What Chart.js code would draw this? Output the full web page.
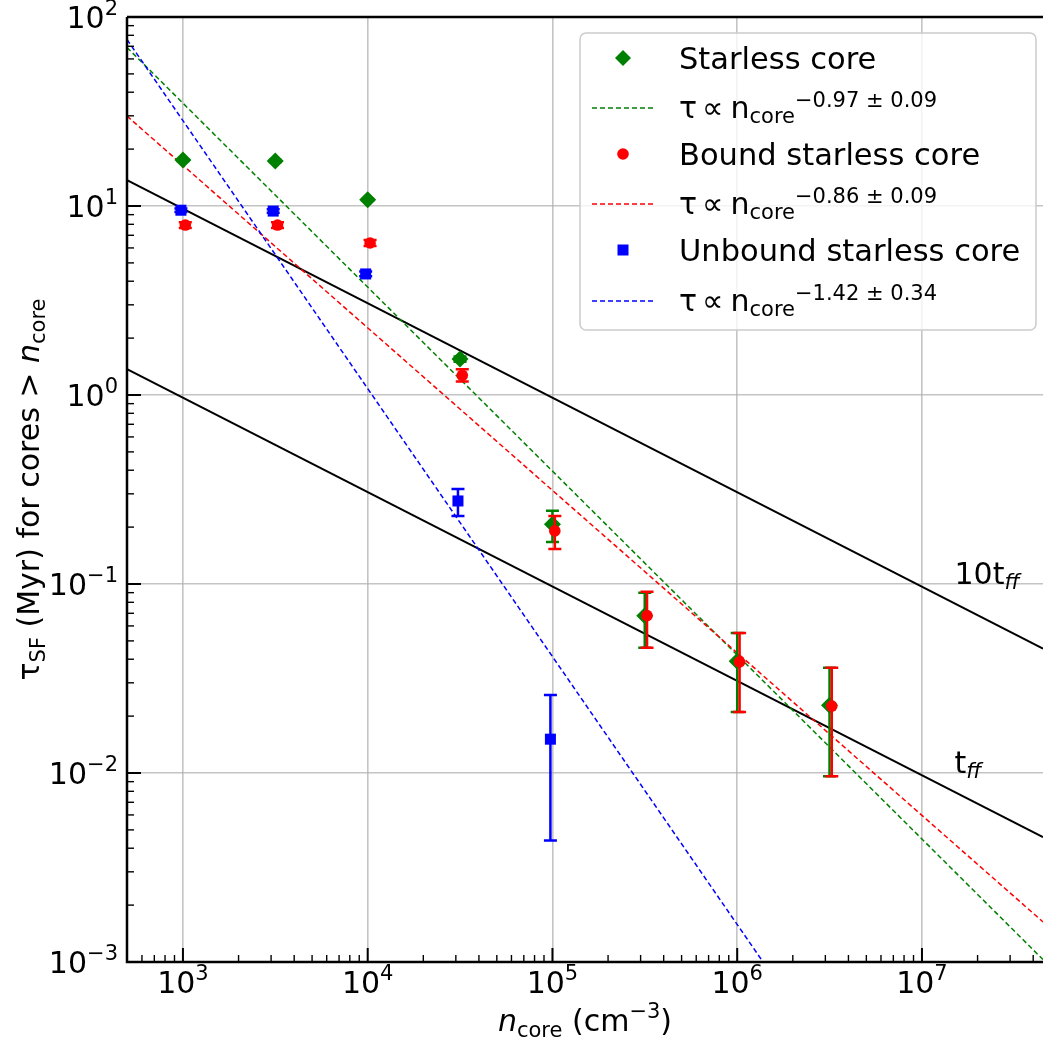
<!DOCTYPE html>
<html>
<head>
<meta charset="utf-8">
<script src="https://cdn.jsdelivr.net/npm/chart.js@4.4.1/dist/chart.umd.min.js"></script>
<style>
  html, body { margin: 0; padding: 0; background: #fff; }
  #wrap { width: 1043px; height: 1050px; }
</style>
</head>
<body>
<div id="wrap"><canvas id="chart" width="1043" height="1050"></canvas></div>
<script>
(function () {
    "use strict";

    var FONT = "'DejaVu Sans', sans-serif";
    var GREEN = "#008000";
    var RED = "#ff0000";
    var BLUE = "#0000ff";

    // --- data ---
    var starlessN = [1e3, 3.16e3, 1e4, 3.16e4, 1e5, 3.16e5, 1e6, 3.16e6];
    var starlessTau = [17.5, 17.3, 10.8, 1.55, 0.207, 0.068, 0.039, 0.0228];
    var starlessLo = [17.3, 17.1, 10.7, 1.50, 0.167, 0.046, 0.021, 0.0096];
    var starlessHi = [17.7, 17.5, 10.9, 1.60, 0.244, 0.090, 0.055, 0.036];

    var boundN = [1.03e3, 3.25e3, 1.03e4, 3.25e4, 1.03e5, 3.25e5, 1.03e6, 3.25e6];
    var boundTau = [7.93, 7.93, 6.37, 1.27, 0.191, 0.068, 0.0387, 0.0226];
    var boundLo = [7.65, 7.65, 6.15, 1.18, 0.153, 0.046, 0.021, 0.0096];
    var boundHi = [8.2, 8.2, 6.6, 1.37, 0.229, 0.091, 0.055, 0.036];

    var unboundN = [0.975e3, 3.08e3, 0.975e4, 3.08e4, 0.975e5];
    var unboundTau = [9.5, 9.4, 4.37, 0.275, 0.0151];
    var unboundLo = [9.3, 9.2, 4.25, 0.229, 0.0044];
    var unboundHi = [9.7, 9.6, 4.5, 0.318, 0.0259];

    // fitted power laws and free-fall lines (end points)
    var fitN = [498, 4.52e7];
    var fitStarless = [69, 1.03e-3];
    var fitBound = [29.9, 1.63e-3];
    var fitUnboundN = [498, 1.38e6];
    var fitUnbound = [76, 1.0e-3];
    var tenTffLine = [13.7, 0.0455];
    var tffLine = [1.37, 0.00458];

    var xTickExps = [3, 4, 5, 6, 7];
    var yTickExps = [-3, -2, -1, 0, 1, 2];
    var X_MIN = 498, X_MAX = 4.52e7, Y_MIN = 1e-3, Y_MAX = 100;

    var fitLabels = ["\u22120.97 \u00b1 0.09", "\u22120.86 \u00b1 0.09", "\u22121.42 \u00b1 0.34"];
    var seriesLabels = ["Starless core", "Bound starless core", "Unbound starless core"];

    function points(xs, ys) {
        return xs.map(function (x, i) { return { x: x, y: ys[i] }; });
    }

    function font(size, italic) {
        return (italic ? "italic " : "") + size + "px " + FONT;
    }

    function richWidth(ctx, parts) {
        var w = 0;
        parts.forEach(function (p) {
            ctx.font = font(p.size, p.italic);
            w += ctx.measureText(p.t).width + (p.gap || 0);
        });
        return w;
    }

    function drawRich(ctx, parts, x, y, align) {
        var w = richWidth(ctx, parts);
        var cx = align === "center" ? x - w / 2 : (align === "right" ? x - w : x);
        ctx.textAlign = "left";
        ctx.textBaseline = "alphabetic";
        parts.forEach(function (p) {
            ctx.font = font(p.size, p.italic);
            ctx.fillText(p.t, cx, y + (p.dy || 0));
            cx += ctx.measureText(p.t).width + (p.gap || 0);
        });
    }

    function powLabel(exp) {
        var e = exp < 0 ? "\u2212" + Math.abs(exp) : String(exp);
        return [{ t: "10", size: 30 }, { t: e, size: 21, dy: -13 }];
    }

    function isDecade(v) {
        var l = Math.log10(v);
        return Math.abs(l - Math.round(l)) < 1e-6;
    }

    var errorBars = {
        id: "errorBars",
        beforeDatasetDraw: function (chart, args) {
            var ds = chart.data.datasets[args.index];
            if (!ds.errLo) return;
            var ctx = chart.ctx;
            var xs = chart.scales.x, ys = chart.scales.y;
            ctx.save();
            ctx.strokeStyle = ds.borderColor;
            ctx.lineWidth = 2.5;
            ds.data.forEach(function (p, i) {
                var px = xs.getPixelForValue(p.x);
                var top = ys.getPixelForValue(ds.errHi[i]);
                var bot = ys.getPixelForValue(ds.errLo[i]);
                ctx.beginPath();
                ctx.moveTo(px, top); ctx.lineTo(px, bot);
                ctx.moveTo(px - 6.5, top); ctx.lineTo(px + 6.5, top);
                ctx.moveTo(px - 6.5, bot); ctx.lineTo(px + 6.5, bot);
                ctx.stroke();
            });
            ctx.restore();
        }
    };

    function drawMarker(ctx, style, x, y, color) {
        ctx.fillStyle = color;
        ctx.beginPath();
        if (style === "diamond") {
            ctx.moveTo(x, y - 8); ctx.lineTo(x + 8, y); ctx.lineTo(x, y + 8); ctx.lineTo(x - 8, y);
            ctx.closePath();
        } else if (style === "circle") {
            ctx.arc(x, y, 5.8, 0, Math.PI * 2);
        } else {
            ctx.rect(x - 5.5, y - 5.5, 11, 11);
        }
        ctx.fill();
    }

    var decorations = {
        id: "decorations",
        afterDraw: function (chart) {
            var ctx = chart.ctx;
            var area = chart.chartArea;
            var xs = chart.scales.x, ys = chart.scales.y;
            ctx.save();
            ctx.fillStyle = "#000";
            ctx.strokeStyle = "#000";

            // free-fall labels
            drawRich(ctx, [{ t: "10t", size: 30 }, { t: "ff", size: 21, italic: true, dy: 5 }],
                xs.getPixelForValue(1.5e7), ys.getPixelForValue(0.1), "left");
            drawRich(ctx, [{ t: "t", size: 30 }, { t: "ff", size: 21, italic: true, dy: 5 }],
                xs.getPixelForValue(1.5e7), ys.getPixelForValue(0.01), "left");

            // spines
            ctx.lineWidth = 2.5;
            ctx.beginPath();
            ctx.moveTo(area.left, area.top); ctx.lineTo(area.left, area.bottom);
            ctx.lineTo(area.right + 2, area.bottom);
            ctx.moveTo(area.left, area.top); ctx.lineTo(area.right + 2, area.top);
            ctx.stroke();

            // inward ticks
            var e, m, v, p;
            for (e = 2; e <= 7; e++) {
                for (m = 1; m <= 9; m++) {
                    v = m * Math.pow(10, e);
                    if (v < X_MIN || v > X_MAX) continue;
                    p = xs.getPixelForValue(v);
                    ctx.lineWidth = m === 1 ? 2 : 1.4;
                    ctx.beginPath();
                    ctx.moveTo(p, area.bottom);
                    ctx.lineTo(p, area.bottom - (m === 1 ? 14 : 7));
                    ctx.stroke();
                }
            }
            for (e = -3; e <= 1; e++) {
                for (m = 1; m <= 9; m++) {
                    v = m * Math.pow(10, e);
                    if (v < Y_MIN || v > Y_MAX) continue;
                    p = ys.getPixelForValue(v);
                    ctx.lineWidth = m === 1 ? 2 : 1.4;
                    ctx.beginPath();
                    ctx.moveTo(area.left, p);
                    ctx.lineTo(area.left + (m === 1 ? 14 : 7), p);
                    ctx.stroke();
                }
            }

            // tick labels
            xTickExps.forEach(function (ex) {
                drawRich(ctx, powLabel(ex), xs.getPixelForValue(Math.pow(10, ex)), area.bottom + 31, "center");
            });
            yTickExps.forEach(function (ex) {
                drawRich(ctx, powLabel(ex), area.left - 9, ys.getPixelForValue(Math.pow(10, ex)) + 11, "right");
            });

            // axis titles
            drawRich(ctx, [
                { t: "n", size: 30, italic: true },
                { t: "core", size: 21, dy: 6 },
                { t: " (cm", size: 30 },
                { t: "\u22123", size: 21, dy: -13 },
                { t: ")", size: 30 }
            ], (area.left + area.right) / 2, 1031, "center");

            ctx.save();
            ctx.translate(39, (area.top + area.bottom) / 2);
            ctx.rotate(-Math.PI / 2);
            drawRich(ctx, [
                { t: "\u03c4", size: 30 },
                { t: "SF", size: 21, dy: 6 },
                { t: " (Myr) for cores > ", size: 30 },
                { t: "n", size: 30, italic: true },
                { t: "core", size: 21, dy: 6 }
            ], 0, 0, "center");
            ctx.restore();

            // legend
            var bx = 580, by = 33, bw = 456, bh = 297;
            ctx.fillStyle = "rgba(255,255,255,0.8)";
            ctx.strokeStyle = "#cccccc";
            ctx.lineWidth = 1.5;
            ctx.beginPath();
            if (ctx.roundRect) ctx.roundRect(bx, by, bw, bh, 6); else ctx.rect(bx, by, bw, bh);
            ctx.fill();
            ctx.stroke();

            var colors = [GREEN, RED, BLUE];
            var styles = ["diamond", "circle", "square"];
            var rowY = [58, 154, 250];
            var lineY = [108, 204, 301];
            for (var i = 0; i < 3; i++) {
                drawMarker(ctx, styles[i], 623, rowY[i], colors[i]);
                ctx.fillStyle = "#000";
                drawRich(ctx, [{ t: seriesLabels[i], size: 30.5 }], 679, rowY[i] + 11, "left");

                ctx.strokeStyle = colors[i];
                ctx.lineWidth = 1.5;
                ctx.setLineDash([5, 3]);
                ctx.beginPath();
                ctx.moveTo(592, lineY[i]); ctx.lineTo(654, lineY[i]);
                ctx.stroke();
                ctx.setLineDash([]);

                ctx.fillStyle = "#000";
                drawRich(ctx, [
                    { t: "\u03c4", size: 30, gap: 5 },
                    { t: "\u221d", size: 30, gap: 7 },
                    { t: "n", size: 30 },
                    { t: "core", size: 21, dy: 5 },
                    { t: fitLabels[i], size: 21, dy: -11 }
                ], 679, lineY[i] + 10, "left");
            }
            ctx.restore();
        }
    };

    function fitSet(xs, ys, color, dash, width, order) {
        return {
            data: points(xs, ys),
            showLine: true,
            borderColor: color,
            backgroundColor: color,
            borderWidth: width,
            borderDash: dash,
            pointRadius: 0,
            order: order
        };
    }

    function markerSet(xs, ys, lo, hi, color, style, radius, order) {
        return {
            data: points(xs, ys),
            showLine: false,
            borderColor: color,
            backgroundColor: color,
            pointStyle: style,
            pointRadius: radius,
            pointBorderWidth: 0,
            errLo: lo,
            errHi: hi,
            order: order
        };
    }

    var majorGrid = function (c) {
        return c.tick && isDecade(c.tick.value) ? "rgba(176,176,176,0.75)" : "rgba(0,0,0,0)";
    };

    new Chart(document.getElementById("chart"), {
        type: "scatter",
        data: {
            datasets: [
                markerSet(unboundN, unboundTau, unboundLo, unboundHi, BLUE, "rect", 7.8, 1),
                markerSet(boundN, boundTau, boundLo, boundHi, RED, "circle", 5.8, 2),
                markerSet(starlessN, starlessTau, starlessLo, starlessHi, GREEN, "rectRot", 8.5, 3),
                fitSet(fitUnboundN, fitUnbound, BLUE, [5, 3], 1.5, 4),
                fitSet(fitN, fitBound, RED, [5, 3], 1.5, 5),
                fitSet(fitN, fitStarless, GREEN, [5, 3], 1.5, 6),
                fitSet(fitN, tenTffLine, "#000", [], 2, 7),
                fitSet(fitN, tffLine, "#000", [], 2, 8)
            ]
        },
        options: {
            responsive: false,
            animation: false,
            devicePixelRatio: 1,
            layout: { autoPadding: false, padding: { top: 17, left: 0, right: 0, bottom: 0 } },
            plugins: {
                legend: { display: false },
                tooltip: { enabled: false }
            },
            scales: {
                x: {
                    type: "logarithmic",
                    min: X_MIN,
                    max: X_MAX,
                    ticks: { display: false },
                    border: { display: false },
                    grid: { color: majorGrid, lineWidth: 1.6, drawTicks: false },
                    afterFit: function (s) { s.height = 88; }
                },
                y: {
                    type: "logarithmic",
                    min: Y_MIN,
                    max: Y_MAX,
                    ticks: { display: false },
                    border: { display: false },
                    grid: { color: majorGrid, lineWidth: 1.6, drawTicks: false },
                    afterFit: function (s) { s.width = 127; }
                }
            }
        },
        plugins: [errorBars, decorations]
    });
})();
</script>
</body>
</html>
